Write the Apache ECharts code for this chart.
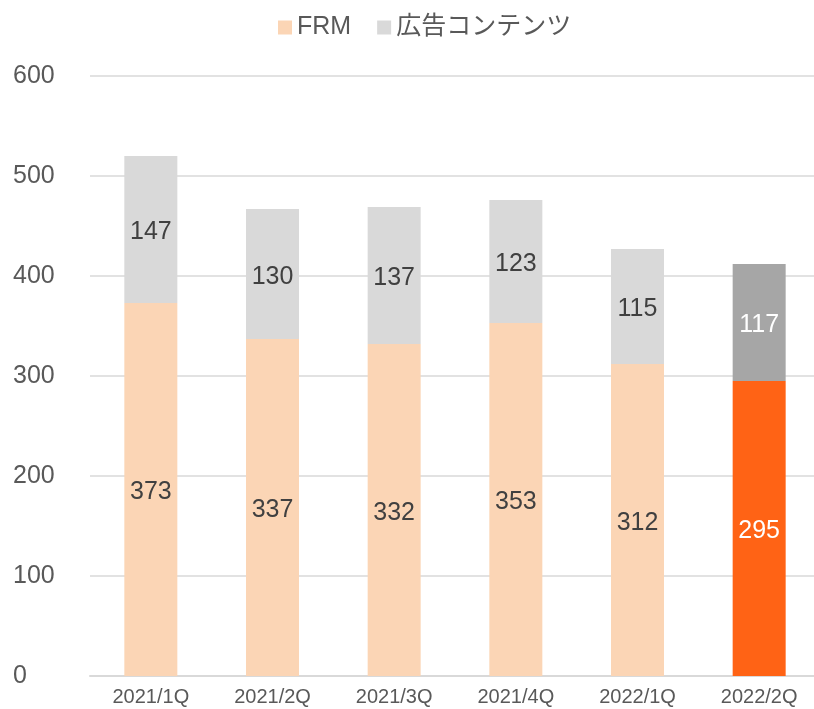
<!DOCTYPE html>
<html>
<head>
<meta charset="utf-8">
<script src="https://cdn.jsdelivr.net/npm/echarts@6/dist/echarts.min.js"></script>
<style>
html,body{margin:0;padding:0;background:#fff;}
#chart{width:814px;height:709px;}
</style>
</head>
<body>
<div id="chart"></div>
<script>
"use strict";
var categories = ['2021/1Q', '2021/2Q', '2021/3Q', '2021/4Q', '2022/1Q', '2022/2Q'];
var frmValues = [373, 337, 332, 353, 312, 295];
var adValues = [147, 130, 137, 123, 115, 117];
var yTicks = [0, 100, 200, 300, 400, 500, 600];

var lastIdx = categories.length - 1;
var font = '"Liberation Sans", Arial, "Noto Sans CJK JP", sans-serif';

function buildData(values, normal, highlight) {
    return values.map(function (v, i) {
        if (i === lastIdx) {
            return { value: v, itemStyle: { color: highlight }, label: { color: '#ffffff' } };
        }
        return { value: v, itemStyle: { color: normal } };
    });
}

var chart = echarts.init(document.getElementById('chart'));
var option = {
    animation: false,
    textStyle: { fontFamily: font },
    legend: {
        top: 15,
        left: 278,
        padding: 0,
        itemWidth: 14,
        itemHeight: 14,
        itemGap: 26,
        icon: 'rect',
        textStyle: { fontSize: 25, color: '#595959', fontFamily: font },
        data: [
            { name: 'FRM', itemStyle: { color: '#fbd5b5' } },
            { name: '広告コンテンツ', itemStyle: { color: '#d9d9d9' } }
        ]
    },
    grid: { left: 90, top: 76, width: 730, height: 600, outerBoundsMode: 'none' },
    xAxis: {
        type: 'category',
        data: categories,
        axisTick: { show: false },
        axisLine: { lineStyle: { color: '#d9d9d9', width: 2 } },
        axisLabel: { fontSize: 20, color: '#595959', margin: 11, fontFamily: font }
    },
    yAxis: {
        type: 'value',
        min: yTicks[0],
        max: yTicks[yTicks.length - 1],
        interval: 100,
        axisLine: { show: false },
        axisTick: { show: false },
        splitLine: { lineStyle: { color: '#d9d9d9', width: 1.5 } },
        axisLabel: { fontSize: 25, color: '#595959', margin: 77, align: 'left', fontFamily: font }
    },
    series: [
        {
            name: 'FRM',
            type: 'bar',
            stack: 'total',
            barWidth: 53,
            data: buildData(frmValues, '#fbd5b5', '#ff6315'),
            label: { show: true, position: 'inside', offset: [0, 3], fontSize: 25, color: '#404040', fontFamily: font }
        },
        {
            name: '広告コンテンツ',
            type: 'bar',
            stack: 'total',
            barWidth: 53,
            data: buildData(adValues, '#d9d9d9', '#a6a6a6'),
            label: { show: true, position: 'inside', offset: [0, 3], fontSize: 25, color: '#404040', fontFamily: font }
        }
    ]
};
chart.setOption(option);
</script>
</body>
</html>
